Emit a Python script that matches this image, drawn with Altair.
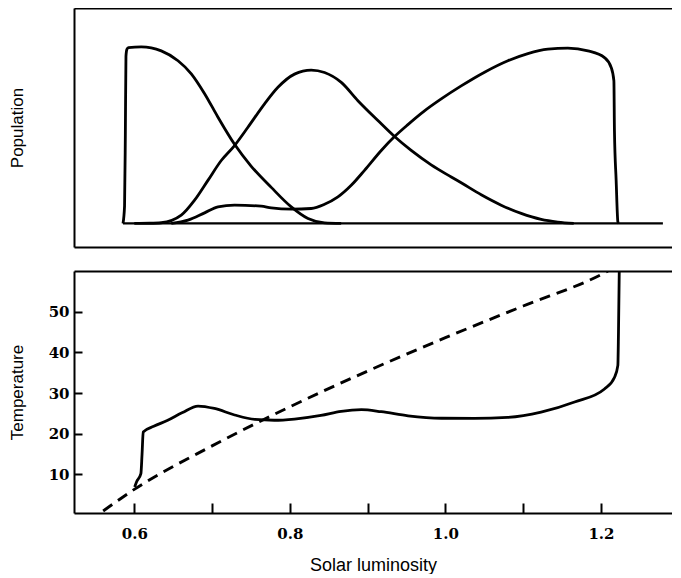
import altair as alt
import pandas as pd

# ---------------- data ----------------
# Population panel (arbitrary units, 1.0 = height of the tallest peak)
black_lum = [0.5855, 0.5875, 0.5885, 0.5893, 0.5905, 0.5925, 0.609, 0.6347, 0.6562,
             0.6733, 0.6904, 0.7076, 0.7289, 0.7504, 0.7761, 0.8018, 0.8233, 0.8446, 0.866]
black_pop = [0.0, 0.10, 0.50, 0.95, 0.99, 1.0, 1.004, 0.981, 0.925,
             0.851, 0.738, 0.604, 0.450, 0.325, 0.205, 0.094, 0.028, 0.003, 0.0]

mid_lum = [0.600, 0.620, 0.6347, 0.6604, 0.6775, 0.6947, 0.7118, 0.7289, 0.7461, 0.7675,
           0.7847, 0.8060, 0.8275, 0.8446, 0.8661, 0.8875, 0.9132, 0.9346, 0.9560, 0.9817,
           1.0075, 1.0203, 1.0460, 1.0717, 1.0974, 1.1231, 1.1445, 1.165]
mid_pop = [0.0, 0.001, 0.004, 0.047, 0.132, 0.245, 0.358, 0.443, 0.547, 0.680,
           0.774, 0.849, 0.872, 0.858, 0.802, 0.698, 0.585, 0.494, 0.415, 0.333,
           0.264, 0.231, 0.163, 0.104, 0.057, 0.023, 0.008, 0.0]

white_lum = [0.6476, 0.669, 0.6904, 0.7076, 0.7289, 0.7632, 0.7761, 0.8018, 0.8275, 0.8446,
             0.8618, 0.8789, 0.8960, 0.9175, 0.9346, 0.9518, 0.9731, 0.9946, 1.0203, 1.0503,
             1.0803, 1.1060, 1.1317, 1.1574, 1.1832, 1.2045, 1.2131, 1.2166, 1.2173, 1.2195,
             1.2217, 1.2225]
white_pop = [0.0, 0.019, 0.060, 0.094, 0.104, 0.098, 0.088, 0.081, 0.085, 0.109,
             0.151, 0.217, 0.302, 0.415, 0.494, 0.562, 0.640, 0.708, 0.782, 0.860,
             0.925, 0.966, 0.991, 0.997, 0.981, 0.943, 0.887, 0.811, 0.528, 0.245,
             0.009, 0.0]

baseline_lum = [0.5855, 1.2796]
baseline_pop = [0.0, 0.0]

# Temperature panel
temp_lum = [0.6005, 0.6030, 0.6085, 0.6100, 0.6115, 0.625, 0.643, 0.662, 0.682, 0.703,
            0.729, 0.755, 0.780, 0.806, 0.840, 0.866, 0.892, 0.9175, 0.952, 0.995,
            1.037, 1.080, 1.123, 1.166, 1.2045, 1.2173, 1.2217, 1.2225, 1.2235]
temp_val = [6.9, 8.2, 10.2, 15.0, 20.4, 21.8, 23.3, 25.2, 26.8, 26.2,
            24.6, 23.5, 23.3, 23.6, 24.5, 25.5, 25.9, 25.4, 24.4, 23.8,
            23.75, 24.0, 25.3, 27.8, 31.0, 33.8, 36.8, 45.0, 60.0]

nolife_lum = [0.560, 0.600, 0.700, 0.800, 0.900, 1.000, 1.100, 1.200, 1.209]
nolife_val = [1.0, 6.3, 17.0, 26.6, 35.4, 43.6, 51.4, 59.1, 60.0]

x_label_values = [0.6, 0.8, 1.0, 1.2]
x_tick_values = [0.6, 0.7, 0.8, 0.9, 1.0, 1.1, 1.2]
y_tick_values = [10, 20, 30, 40, 50]

# ---------------- helpers ----------------
def frame(xs, ys, name):
    return pd.DataFrame({"lum": xs, "val": ys, "series": name, "order": list(range(len(xs)))})

SANS = "Liberation Sans"
SERIF = "DejaVu Serif"
W = 598
H_TOP = 239
H_BOT = 242
LW = 2.8

x_scale = alt.Scale(domain=[0.5225, 1.2913], nice=False, zero=False)
pop_scale = alt.Scale(domain=[-0.134, 1.225], nice=False, zero=False)
temp_scale = alt.Scale(domain=[0.5, 60], nice=False, zero=False)

# ---------------- population panel ----------------
pop_df = pd.concat([
    frame(black_lum, black_pop, "black"),
    frame(mid_lum, mid_pop, "mid"),
    frame(white_lum, white_pop, "white"),
])

base_layer = alt.Chart(frame(baseline_lum, baseline_pop, "baseline")).mark_line(
    color="black", strokeWidth=2.2
).encode(
    x=alt.X("lum:Q", scale=x_scale, title=None,
            axis=alt.Axis(orient="bottom", labels=False, ticks=False, domainWidth=2)),
    y=alt.Y("val:Q", scale=pop_scale, title="Population",
            axis=alt.Axis(orient="left", labels=False, ticks=False, domainWidth=2,
                          titlePadding=48, titleFont=SANS, titleFontSize=17,
                          titleFontWeight="normal")),
)

curves = alt.Chart(pop_df).mark_line(
    color="black", strokeWidth=LW, interpolate="monotone", clip=True
).encode(
    x=alt.X("lum:Q", scale=x_scale, title=None,
            axis=alt.Axis(orient="top", labels=False, ticks=False, domainWidth=2)),
    y=alt.Y("val:Q", scale=pop_scale, axis=None),
    detail="series:N",
    order="order:Q",
)

top = alt.layer(base_layer, curves).resolve_axis(
    x="independent", y="independent"
).properties(width=W, height=H_TOP)

# ---------------- temperature panel ----------------
solid = alt.Chart(frame(temp_lum, temp_val, "daisy")).mark_line(
    color="black", strokeWidth=LW, interpolate="monotone", clip=True
).encode(
    x=alt.X("lum:Q", scale=x_scale, title="Solar luminosity",
            axis=alt.Axis(orient="bottom", values=x_label_values, format=".1f",
                          ticks=False, domainWidth=2, labelFont=SERIF,
                          labelFontSize=15, labelFontWeight="bold", labelPadding=13,
                          titleFont=SANS, titleFontSize=18, titleFontWeight="normal",
                          titlePadding=15)),
    y=alt.Y("val:Q", scale=temp_scale, title="Temperature",
            axis=alt.Axis(orient="left", values=y_tick_values, ticks=False,
                          domainWidth=2, labelFont=SERIF, labelFontSize=15,
                          labelFontWeight="bold", labelPadding=5,
                          titleFont=SANS, titleFontSize=17, titleFontWeight="normal",
                          titlePadding=22)),
    order="order:Q",
)

dashed = alt.Chart(frame(nolife_lum, nolife_val, "nolife")).mark_line(
    color="black", strokeWidth=2.9, strokeDash=[11, 7], interpolate="monotone", clip=True
).encode(
    x=alt.X("lum:Q", scale=x_scale, title=None,
            axis=alt.Axis(orient="bottom", values=x_tick_values, labels=False,
                          domain=False, tickSize=10, tickWidth=2, offset=-10)),
    y=alt.Y("val:Q", scale=temp_scale, title=None,
            axis=alt.Axis(orient="left", values=y_tick_values, labels=False,
                          domain=False, tickSize=8, tickWidth=2, offset=-8)),
    order="order:Q",
)

topline = alt.Chart(frame(nolife_lum, nolife_val, "nolife")).mark_line(
    strokeOpacity=0
).encode(
    x=alt.X("lum:Q", scale=x_scale, title=None,
            axis=alt.Axis(orient="top", labels=False, ticks=False, domainWidth=2)),
    y=alt.Y("val:Q", scale=temp_scale, axis=None),
)

bottom = alt.layer(solid, dashed, topline).resolve_axis(
    x="independent", y="independent"
).properties(width=W, height=H_BOT)

chart = alt.vconcat(top, bottom, spacing=24).properties(
    padding={"left": 0, "top": 0, "right": 0, "bottom": 0}
).configure_view(stroke=None).configure_axis(
    grid=False, domainColor="black", tickColor="black",
    labelColor="black", titleColor="black"
)

chart.save("out.html", embed_options={"renderer": "svg", "actions": False})
